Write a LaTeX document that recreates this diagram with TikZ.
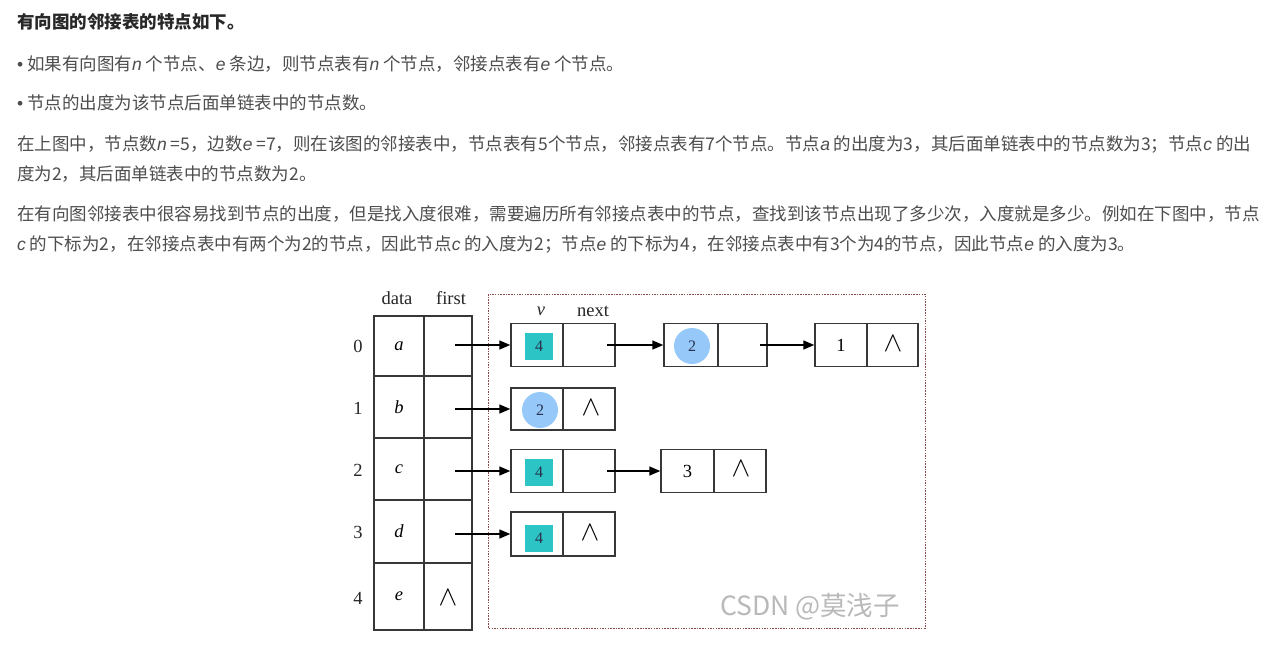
\documentclass[tikz,border=0pt]{standalone}
\usepackage{fontspec}
\usepackage{graphicx}
\newfontfamily\cjk{Noto Sans CJK SC}
\newfontfamily\latsans{Liberation Sans}
\newfontfamily\dserif{Liberation Serif}
\usetikzlibrary{arrows.meta,calc}
\definecolor{txt}{RGB}{77,77,77}
\definecolor{txtb}{RGB}{40,40,40}
\definecolor{tealsq}{RGB}{44,196,196}
\definecolor{bluec}{RGB}{150,200,250}
\definecolor{dashred}{RGB}{140,75,75}
\definecolor{linegray}{RGB}{55,55,55}
\definecolor{wmgray}{RGB}{185,185,185}
\definecolor{numblue}{RGB}{40,50,75}
\newcommand{\myit}[1]{{\latsans\itshape #1}}
\newcommand{\nilsym}{\scalebox{1.35}{$\wedge$}}
\begin{document}
\begin{tikzpicture}[x=1pt,y=-1pt,
  para/.style={anchor=base west,inner sep=0pt,font=\cjk\fontsize{17.5}{20}\selectfont,text=txt},
  dfont/.style={font=\dserif\fontsize{18.5}{21}\selectfont},
  tcell/.style={draw=linegray,line width=1.4pt,inner sep=0pt,dfont},
  lcell/.style={draw=linegray,line width=1.4pt,inner sep=0pt,minimum height=43pt,dfont},
  sq/.style={fill=tealsq,inner sep=0pt,minimum width=28pt,minimum height=27pt,text=numblue,font=\dserif\fontsize{16}{18}\selectfont},
  bub/.style={circle,fill=bluec,inner sep=0pt,minimum size=36pt,text=numblue,font=\dserif\fontsize{16}{18}\selectfont},
  nil/.style={inner sep=0pt,font=\fontsize{20}{22}\selectfont},
  arr/.style={line width=1.4pt,draw=black,-{Triangle[length=11pt,width=9pt]}},
  lbl/.style={inner sep=0pt,dfont,text=black!85}
]
\useasboundingbox (0,0) rectangle (1272,648);
\fill[white] (0,0) rectangle (1272,648);

% ---------- text ----------
\node[para,text=txtb,font=\cjk\bfseries\fontsize{17.5}{20}\selectfont] (t1) at (17,28.6) {有向图的邻接表的特点如下。};
\node[para] (t2) at (17,70.6) {{\latsans•} 如果有向图有\myit{n} 个节点、\myit{e} 条边，则节点表有\myit{n} 个节点，邻接点表有\myit{e} 个节点。};
\node[para] (t3) at (17,109.6) {{\latsans•} 节点的出度为该节点后面单链表中的节点数。};
\node[para] (t4) at (17,150.6) {在上图中，节点数\myit{n} =5，边数\myit{e} =7，则在该图的邻接表中，节点表有5个节点，邻接点表有7个节点。节点\myit{a} 的出度为3，其后面单链表中的节点数为3；节点\myit{c} 的出};
\node[para] (t5) at (17,180.6) {度为2，其后面单链表中的节点数为2。};
\node[para] (t6) at (17,220.6) {在有向图邻接表中很容易找到节点的出度，但是找入度很难，需要遍历所有邻接点表中的节点，查找到该节点出现了多少次，入度就是多少。例如在下图中，节点};
\node[para] (t7) at (17,250.6) {\myit{c} 的下标为2，在邻接点表中有两个为2的节点，因此节点\myit{c} 的入度为2；节点\myit{e} 的下标为4，在邻接点表中有3个为4的节点，因此节点\myit{e} 的入度为3。};

% ---------- frame ----------
\draw[dashred,line width=1pt,dash pattern=on 1.5pt off 1.2pt] (488,294) rectangle (925,628);

% ---------- headers ----------
\node[lbl] (hdata) at (397,298) {data};
\node[lbl] (hfirst) at (451,298) {first};
\node[lbl] (hv) at (541,311) {\textit{v}};
\node[lbl] (hnext) at (593,311) {next};

% ---------- table ----------
\node[tcell,minimum width=50pt,minimum height=60pt] (d0) at (399,346) {\textit{a}};
\node[tcell,minimum width=48pt,minimum height=60pt] (f0) at (448,346) {};
\node[tcell,minimum width=50pt,minimum height=62pt] (d1) at (399,407) {\textit{b}};
\node[tcell,minimum width=48pt,minimum height=62pt] (f1) at (448,407) {};
\node[tcell,minimum width=50pt,minimum height=62pt] (d2) at (399,469) {\textit{c}};
\node[tcell,minimum width=48pt,minimum height=62pt] (f2) at (448,469) {};
\node[tcell,minimum width=50pt,minimum height=63pt] (d3) at (399,531.5) {\textit{d}};
\node[tcell,minimum width=48pt,minimum height=63pt] (f3) at (448,531.5) {};
\node[tcell,minimum width=50pt,minimum height=67pt] (d4) at (399,596.5) {\textit{e}};
\node[tcell,minimum width=48pt,minimum height=67pt] (f4) at (448,596.5) {};
\node[nil] (f4nil) at (448,598) {\nilsym};

\node[lbl] (i0) at (358,346) {0};
\node[lbl] (i1) at (358,408) {1};
\node[lbl] (i2) at (358,470) {2};
\node[lbl] (i3) at (358,532) {3};
\node[lbl] (i4) at (358,598) {4};

% ---------- row 0 ----------
\node[lcell,minimum width=52pt] (a0v) at (537,345) {};
\node[lcell,minimum width=52pt] (a0n) at (589,345) {};
\node[sq] (a0s) at (539,346.5) {4};
\node[lcell,minimum width=54pt] (a1v) at (691,345) {};
\node[lcell,minimum width=49pt] (a1n) at (742.5,345) {};
\node[bub] (a1c) at (692,346) {2};
\node[lcell,minimum width=52pt] (a2v) at (841,345) {1};
\node[lcell,minimum width=51pt] (a2n) at (892.5,345) {};
\node[nil] (a2nil) at (893,344) {\nilsym};

% ---------- row 1 ----------
\node[lcell,minimum width=52pt,minimum height=42pt] (b0v) at (537,409) {};
\node[lcell,minimum width=52pt,minimum height=42pt] (b0n) at (589,409) {};
\node[bub] (b0c) at (540,410) {2};
\node[nil] (b0nil) at (591,408) {\nilsym};

% ---------- row 2 ----------
\node[lcell,minimum width=52pt] (c0v) at (537,471) {};
\node[lcell,minimum width=52pt] (c0n) at (589,471) {};
\node[sq] (c0s) at (539,472) {4};
\node[lcell,minimum width=53pt] (c1v) at (687.5,471) {3};
\node[lcell,minimum width=52pt] (c1n) at (740,471) {};
\node[nil] (c1nil) at (741,469) {\nilsym};

% ---------- row 3 ----------
\node[lcell,minimum width=52pt,minimum height=44pt] (e0v) at (537,534) {};
\node[lcell,minimum width=52pt,minimum height=44pt] (e0n) at (589,534) {};
\node[sq] (e0s) at (539,538) {4};
\node[nil] (e0nil) at (590,533) {\nilsym};

% ---------- arrows ----------
\draw[arr] ([xshift=7pt]f0.center |- a0v.west) -- (a0v.west);
\draw[arr] ([xshift=7pt]f1.center |- b0v.west) -- (b0v.west);
\draw[arr] ([xshift=7pt]f2.center |- c0v.west) -- (c0v.west);
\draw[arr] ([xshift=7pt]f3.center |- e0v.west) -- (e0v.west);
\draw[arr] ([xshift=18pt]a0n.center) -- (a1v.west);
\draw[arr] ([xshift=17pt]a1n.center) -- (a2v.west);
\draw[arr] ([xshift=18pt]c0n.center) -- (c1v.west);

% ---------- watermark ----------
\node[inner sep=0pt,text=wmgray,font=\cjk\fontsize{26.5}{29}\selectfont] (wm) at (810,607) {CSDN @莫浅子};
\end{tikzpicture}
\end{document}
